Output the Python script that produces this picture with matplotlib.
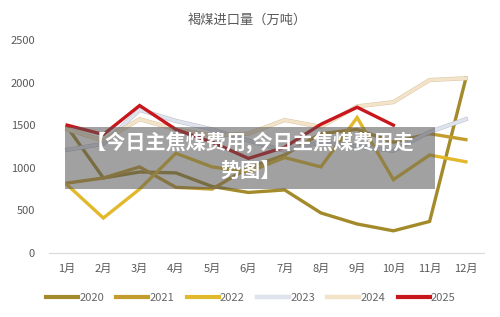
import matplotlib
matplotlib.use("Agg")
import matplotlib.pyplot as plt
import matplotlib.patheffects as pe
from matplotlib.patches import Rectangle

plt.rcParams['font.family'] = ['Noto Sans CJK SC', 'DejaVu Sans']

months = ['1月', '2月', '3月', '4月', '5月', '6月', '7月', '8月', '9月', '10月', '11月', '12月']
years = ['2020', '2021', '2022', '2023', '2024', '2025']

v2020 = [1480, 880, 950, 940, 780, 710, 740, 470, 340, 260, 370, 2050]
v2021 = [820, 880, 1010, 770, 750, 1000, 1150, 1400, 1450, 1300, 1400, 1330]
v2022 = [800, 410, 750, 1170, 1010, 950, 1120, 1010, 1590, 860, 1150, 1070]
v2023 = [1210, 1280, 1680, 1550, 1450, 1320, 1200, 1300, 1250, 1200, 1420, 1570]
v2024 = [1450, 1320, 1570, 1450, 1380, 1400, 1560, 1480, 1720, 1770, 2030, 2050]
v2025 = [1500, 1390, 1730, 1450, 1300, 1110, 1240, 1510, 1710, 1500]

series = [v2020, v2021, v2022, v2023, v2024, v2025]
colors = ['#a38b2b', '#c29d2e', '#e2b92c', '#dfe3ee', '#f3e3c9', '#c8161d']
edges = [None, None, None, '#b9bec9', '#d9c7a8', None]

fig = plt.figure(figsize=(5, 3.17), dpi=100)
ax = fig.add_axes([0.098, 0.202, 0.87, 0.672])

for name, vals, c, ec in zip(years, series, colors, edges):
    x = range(len(vals))
    if ec:
        ax.plot(x, vals, color=c, lw=2.3, label=name, solid_joinstyle='miter',
                path_effects=[pe.Stroke(linewidth=3.0, foreground=ec), pe.Normal()])
    else:
        ax.plot(x, vals, color=c, lw=2.4, label=name, solid_joinstyle='miter')

ax.set_xlim(-0.5, 11.5)
ax.set_ylim(0, 2500)
ax.set_xticks(range(12))
ax.set_xticklabels(months)
ax.set_yticks([0, 500, 1000, 1500, 2000, 2500])
ax.tick_params(length=0, labelsize=8, colors='#595959')
ax.tick_params(axis='x', pad=8)
ax.tick_params(axis='y', pad=10)
for s in ['top', 'right', 'left']:
    ax.spines[s].set_visible(False)
ax.spines['bottom'].set_color('#d9d9d9')

fig.text(0.494, 0.937, '褐煤进口量（万吨）', ha='center', va='center',
         fontsize=9.5, color='#595959')

leg = ax.legend(loc='center', bbox_to_anchor=(0.464, -0.21), ncol=6, frameon=False,
                fontsize=8, handlelength=2.9, handletextpad=0.1, columnspacing=1.1)
for t in leg.get_texts():
    t.set_color('#666666')
for h in leg.get_lines():
    h.set_linewidth(3)

# watermark overlay
fig.patches.append(Rectangle((0.13, 0.403), 0.74, 0.196, transform=fig.transFigure,
                             facecolor='#555555', alpha=0.55, edgecolor='none', zorder=5))
fig.text(0.5, 0.549, '【今日主焦煤费用,今日主焦煤费用走', ha='center', va='center',
         fontsize=14.5, color='white', fontweight='bold', zorder=6)
fig.text(0.5, 0.464, '势图】', ha='center', va='center',
         fontsize=14.5, color='white', fontweight='bold', zorder=6)

fig.savefig('out.png', dpi=100)
